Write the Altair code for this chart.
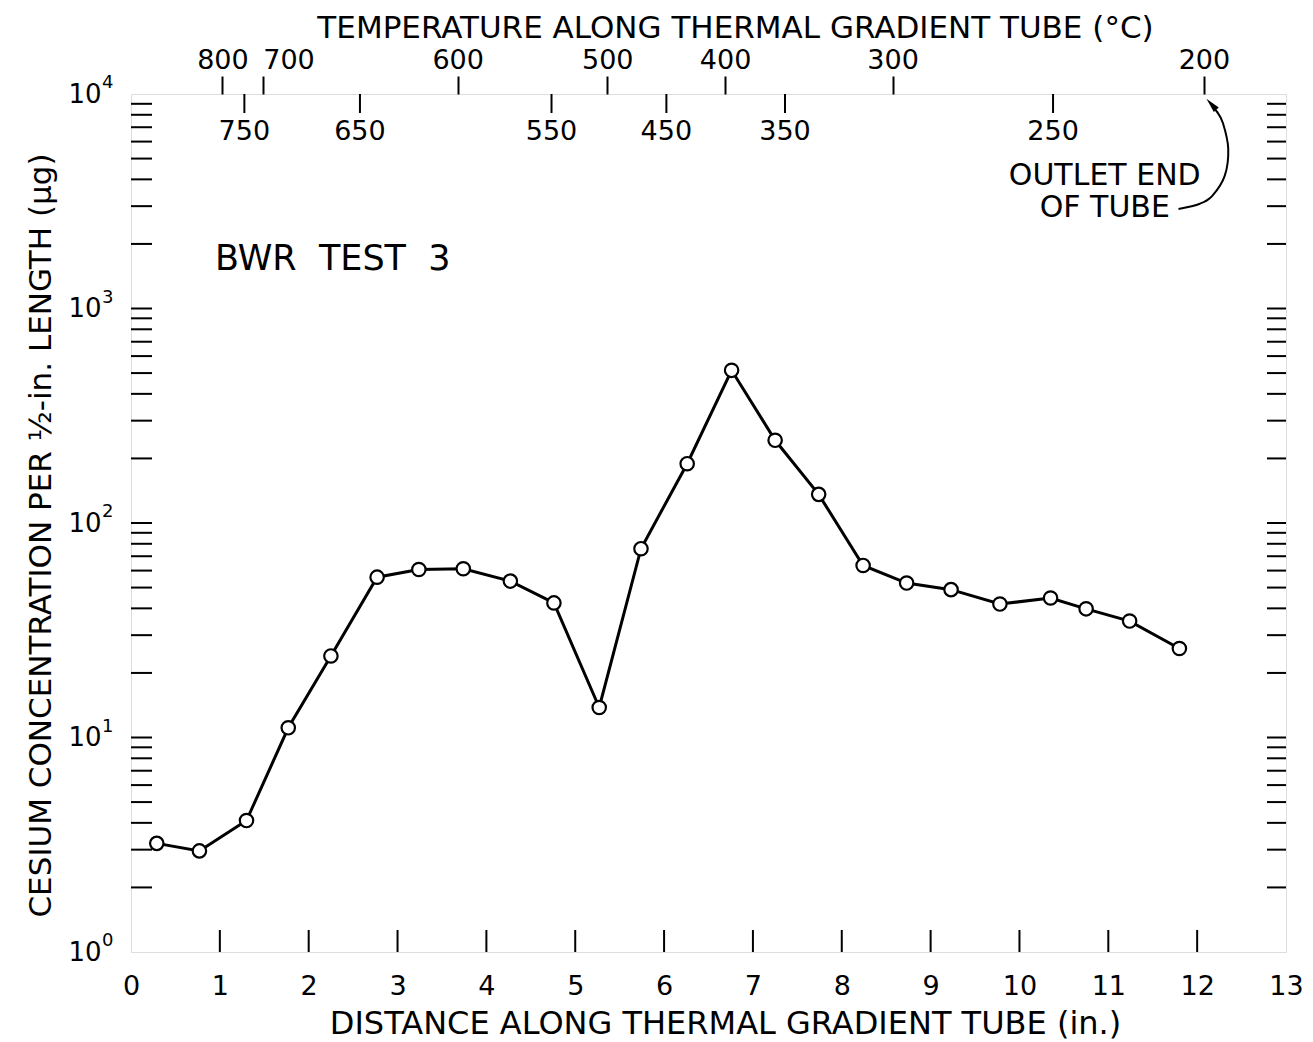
import altair as alt
import pandas as pd

# ---------------- data ----------------
distance_in = [0.29, 0.77, 1.30, 1.77, 2.25, 2.77, 3.24, 3.74, 4.27, 4.76, 5.27, 5.74,
               6.26, 6.76, 7.25, 7.74, 8.24, 8.73, 9.23, 9.78, 10.35, 10.75, 11.24, 11.80]
cesium_ug = [3.21, 2.96, 4.10, 11.1, 24.0, 55.9, 60.7, 61.2, 53.6, 42.4, 13.8, 75.9,
             189, 515, 243, 136, 63.4, 52.5, 48.9, 41.9, 44.7, 39.8, 34.9, 26.0]

# temperature scale along the top (position in inches -> label in deg C)
temp_upper_pos = [1.029, 1.483, 3.677, 5.36, 6.687, 8.572, 12.076]
temp_upper_lab = ["800", "700", "600", "500", "400", "300", "200"]
temp_lower_pos = [1.276, 2.577, 4.733, 6.026, 7.361, 10.378]
temp_lower_lab = ["750", "650", "550", "450", "350", "250"]

x_tick_vals = list(range(0, 14))
x_inner_ticks = list(range(1, 13))
y_major_vals = [1, 10, 100, 1000, 10000]
y_major_base = "10"
y_major_exp = ["0", "1", "2", "3", "4"]
y_minor_vals = [m * 10 ** k for k in range(4) for m in range(2, 10)] + [10, 100, 1000]

# annotations
bwr_text = ["BWR\u00a0 TEST\u00a0 3"]
bwr_x = [0.945]
bwr_y = [1706]
outlet_text = ["OUTLET END", "OF TUBE"]
outlet_x = [10.96, 10.96]
outlet_y = [4150, 2945]
arrow_x = [11.79, 12.03, 12.17, 12.31, 12.35, 12.29, 12.22, 12.17]
arrow_y = [2910, 3080, 3350, 4150, 5550, 7330, 8300, 8700]
arrowhead_x = [12.16]
arrowhead_y = [8966]

# ---------------- chart ----------------
W, H = 1155, 858
FONT = "DejaVu Sans"
xs = alt.Scale(domain=[0, 13], nice=False, zero=False)
ys = alt.Scale(type="log", domain=[1, 10000], nice=False)

main_df = pd.DataFrame({"distance": distance_in, "cesium": cesium_ug})

def arr_expr(labels, values):
    labs = ",".join("'" + l + "'" for l in labels)
    vals = ",".join(repr(v) for v in values)
    return "[" + labs + "][indexof([" + vals + "], datum.value)]"

bottom_axis = alt.Axis(
    orient="bottom", values=x_tick_vals, format="d", ticks=False, tickSize=0,
    domain=False, grid=False, labelFontSize=27, labelColor="black", labelFont=FONT,
    labelPadding=21, labelFlush=False, labelOverlap=False,
    title="DISTANCE ALONG THERMAL GRADIENT TUBE (in.)", titleFontSize=32,
    titleFontWeight="normal", titleColor="black", titleFont=FONT,
    titleX=594, titleY=81, titleBaseline="alphabetic",
)
left_axis = alt.Axis(
    orient="left", values=y_major_vals, labelExpr="'" + y_major_base + "'",
    ticks=False, tickSize=0, domain=False, grid=False, labelFontSize=26,
    labelColor="black", labelFont=FONT, labelPadding=30, labelBaseline="middle",
    labelFlush=False, labelOverlap=False,
    title="CESIUM CONCENTRATION PER ½-in. LENGTH (μg)", titleFontSize=31,
    titleFontWeight="normal", titleColor="black", titleFont=FONT,
    titleX=-90, titleY=441, titleBaseline="middle",
)
top_axis = alt.Axis(
    orient="top", values=temp_upper_pos, labelExpr=arr_expr(temp_upper_lab, temp_upper_pos),
    ticks=True, tickSize=18, tickWidth=2, tickColor="black", domain=False, grid=False,
    labelFontSize=27, labelColor="black", labelFont=FONT, labelPadding=2,
    labelFlush=False, labelOverlap=False,
    labelAlign=alt.condition("datum.value == 1.483", alt.value("left"), alt.value("center")),
    title="TEMPERATURE ALONG THERMAL GRADIENT TUBE (°C)", titleFontSize=31,
    titleFontWeight="normal", titleColor="black", titleFont=FONT,
    titleX=604, titleY=-57, titleBaseline="alphabetic",
)

line = alt.Chart(main_df).mark_line(color="black", strokeWidth=3).encode(
    x=alt.X("distance:Q", scale=xs, axis=bottom_axis),
    y=alt.Y("cesium:Q", scale=ys, axis=left_axis),
)
points = alt.Chart(main_df).mark_point(
    shape="circle", filled=True, fill="white", stroke="black", strokeWidth=2.2,
    size=180, opacity=1,
).encode(
    x=alt.X("distance:Q", scale=xs, axis=None),
    y=alt.Y("cesium:Q", scale=ys, axis=None),
)

exp_df = pd.DataFrame({"v": y_major_vals, "e": y_major_exp})
exponents = alt.Chart(exp_df).mark_text(
    fontSize=18, font=FONT, color="black", align="left", baseline="middle", dy=-11
).encode(y=alt.Y("v:Q", scale=ys, axis=None), x=alt.value(-29), text="e:N")

yminor_df = pd.DataFrame({"v": y_minor_vals})
left_ticks = alt.Chart(yminor_df).mark_rule(color="black", strokeWidth=2).encode(
    y=alt.Y("v:Q", scale=ys, axis=None), x=alt.value(0), x2=alt.value(21)
)
right_ticks = alt.Chart(yminor_df).mark_rule(color="black", strokeWidth=2).encode(
    y=alt.Y("v:Q", scale=ys, axis=None), x=alt.value(W - 19), x2=alt.value(W)
)
bottom_ticks = alt.Chart(pd.DataFrame({"t": x_inner_ticks})).mark_rule(
    color="black", strokeWidth=2
).encode(x=alt.X("t:Q", scale=xs, axis=None), y=alt.value(H - 22), y2=alt.value(H))

lower_df = pd.DataFrame({"p": temp_lower_pos, "lab": temp_lower_lab})
top_lower_ticks = alt.Chart(lower_df).mark_rule(color="black", strokeWidth=2).encode(
    x=alt.X("p:Q", scale=xs, axis=top_axis), y=alt.value(0), y2=alt.value(19)
)
top_lower_labels = alt.Chart(lower_df).mark_text(
    fontSize=27, font=FONT, color="black", baseline="middle", align="center"
).encode(x=alt.X("p:Q", scale=xs, axis=None), y=alt.value(38), text="lab:N")

bwr = alt.Chart(pd.DataFrame({"x": bwr_x, "y": bwr_y, "t": bwr_text})).mark_text(
    fontSize=35, font=FONT, color="black", align="left", baseline="middle"
).encode(x=alt.X("x:Q", scale=xs, axis=None), y=alt.Y("y:Q", scale=ys, axis=None), text="t:N")

outlet = alt.Chart(pd.DataFrame({"x": outlet_x, "y": outlet_y, "t": outlet_text})).mark_text(
    fontSize=30, font=FONT, color="black", align="center", baseline="middle"
).encode(x=alt.X("x:Q", scale=xs, axis=None), y=alt.Y("y:Q", scale=ys, axis=None), text="t:N")

arrow_df = pd.DataFrame({"x": arrow_x, "y": arrow_y, "i": list(range(len(arrow_x)))})
arrow = alt.Chart(arrow_df).mark_line(color="black", strokeWidth=2, interpolate="cardinal").encode(
    x=alt.X("x:Q", scale=xs, axis=None), y=alt.Y("y:Q", scale=ys, axis=None), order="i:Q"
)
arrowhead = alt.Chart(pd.DataFrame({"x": arrowhead_x, "y": arrowhead_y})).mark_point(
    shape="M0,-1L0.45,1L-0.45,1Z", filled=True, color="black", size=220, angle=318, opacity=1
).encode(x=alt.X("x:Q", scale=xs, axis=None), y=alt.Y("y:Q", scale=ys, axis=None))

chart = alt.layer(
    line, top_lower_ticks, left_ticks, right_ticks, bottom_ticks, top_lower_labels,
    exponents, points, bwr, outlet, arrow, arrowhead,
).resolve_axis(x="independent", y="independent").properties(
    width=W, height=H,
    autosize=alt.AutoSizeParams(type="none"),
    padding={"left": 123, "top": 86, "right": 19, "bottom": 90},
    background="white",
).configure_view(stroke="black", strokeWidth=2.5).configure(font=FONT)

chart.save("out.html", embed_options={"renderer": "svg", "actions": False})
